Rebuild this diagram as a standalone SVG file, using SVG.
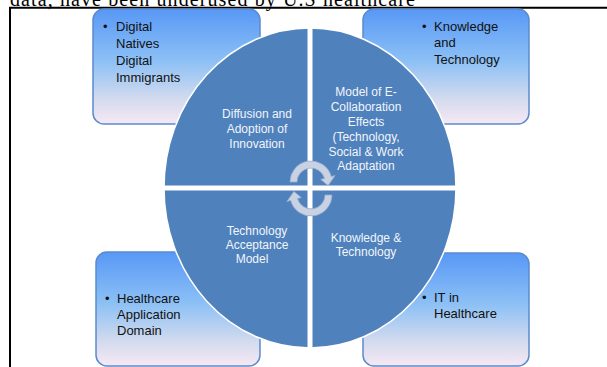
<svg xmlns="http://www.w3.org/2000/svg" width="607" height="367" viewBox="0 0 607 367">
<style>
.box{stroke:#5b8bcb;stroke-width:1.5;fill:url(#bg)}
.bt{font-family:"Liberation Sans",Arial,sans-serif;font-size:13px;fill:#111}
.ct{font-family:"Liberation Sans",Arial,sans-serif;font-size:12px;fill:#f2f5fa;text-anchor:middle}
.arr{fill:#c8d2e4;stroke:#9aacc9;stroke-width:0.8}
</style>
<defs>
<linearGradient id="bg" x1="0" y1="0" x2="0" y2="1">
<stop offset="0" stop-color="#5898f6"/>
<stop offset="0.45" stop-color="#8cc0f5"/>
<stop offset="0.8" stop-color="#d6dcee"/>
<stop offset="1" stop-color="#f7e8f5"/>
</linearGradient>
</defs>
<rect width="607" height="367" fill="#fff"/>
<text x="10" y="6" font-family="'Liberation Serif',serif" font-size="20" textLength="405" fill="#000">data, have been underused by U.S healthcare</text>
<path d="M10 367 V7.7 H607" fill="none" stroke="#000" stroke-width="2"/>

<g id="box-digital">
<rect class="box" x="93" y="9" width="167" height="115" rx="11"/>
<text class="bt" x="103" y="31">•</text>
<text class="bt" x="116" y="31">Digital</text>
<text class="bt" x="116" y="48">Natives</text>
<text class="bt" x="116" y="65">Digital</text>
<text class="bt" x="116" y="82">Immigrants</text>
</g>
<g id="box-knowledge">
<rect class="box" x="363" y="9" width="166" height="115" rx="11"/>
<text class="bt" x="422" y="31">•</text>
<text class="bt" x="434" y="31">Knowledge</text>
<text class="bt" x="434" y="47">and</text>
<text class="bt" x="434" y="64">Technology</text>
</g>
<g id="box-healthcare-app">
<rect class="box" x="96" y="252" width="164" height="114" rx="11"/>
<text class="bt" x="105" y="303">•</text>
<text class="bt" x="117" y="303">Healthcare</text>
<text class="bt" x="117" y="319">Application</text>
<text class="bt" x="117" y="335">Domain</text>
</g>
<g id="box-it">
<rect class="box" x="363" y="253" width="166" height="113" rx="11"/>
<text class="bt" x="422" y="302">•</text>
<text class="bt" x="434" y="302">IT in</text>
<text class="bt" x="434" y="318">Healthcare</text>
</g>

<g id="circle">
<ellipse cx="310" cy="188" rx="146" ry="160" fill="#4f81bd" stroke="#fff" stroke-width="1.5"/>
<path d="M310 26 V350 M162 188 H458" stroke="#fff" stroke-width="5"/>
</g>
<g id="q-diffusion">
<text class="ct" x="257" y="118">Diffusion and</text>
<text class="ct" x="257" y="133">Adoption of</text>
<text class="ct" x="257" y="148">Innovation</text>
</g>
<g id="q-ecollab">
<text class="ct" x="366" y="96">Model of E-</text>
<text class="ct" x="366" y="111">Collaboration</text>
<text class="ct" x="366" y="126">Effects</text>
<text class="ct" x="366" y="141">(Technology,</text>
<text class="ct" x="366" y="156">Social &amp; Work</text>
<text class="ct" x="366" y="170">Adaptation</text>
</g>
<g id="q-tam">
<text class="ct" x="257" y="235">Technology</text>
<text class="ct" x="257" y="249">Acceptance</text>
<text class="ct" x="252" y="263">Model</text>
</g>
<g id="q-kt">
<text class="ct" x="366" y="242">Knowledge &amp;</text>
<text class="ct" x="366" y="256">Technology</text>
</g>

<g id="connectors">
<path class="arr" d="M290 182 A21 21 0 0 1 331.3 176.6 L335.1 175.5 L328.1 185.6 L320.7 179.4 L324.5 178.4 A14 14 0 0 0 297 182 Z"/>
<path class="arr" d="M332 195 A21 21 0 0 1 290.7 200.4 L286.9 201.5 L293.9 191.4 L301.3 197.6 L297.5 198.6 A14 14 0 0 0 325 195 Z"/>
</g>
</svg>
